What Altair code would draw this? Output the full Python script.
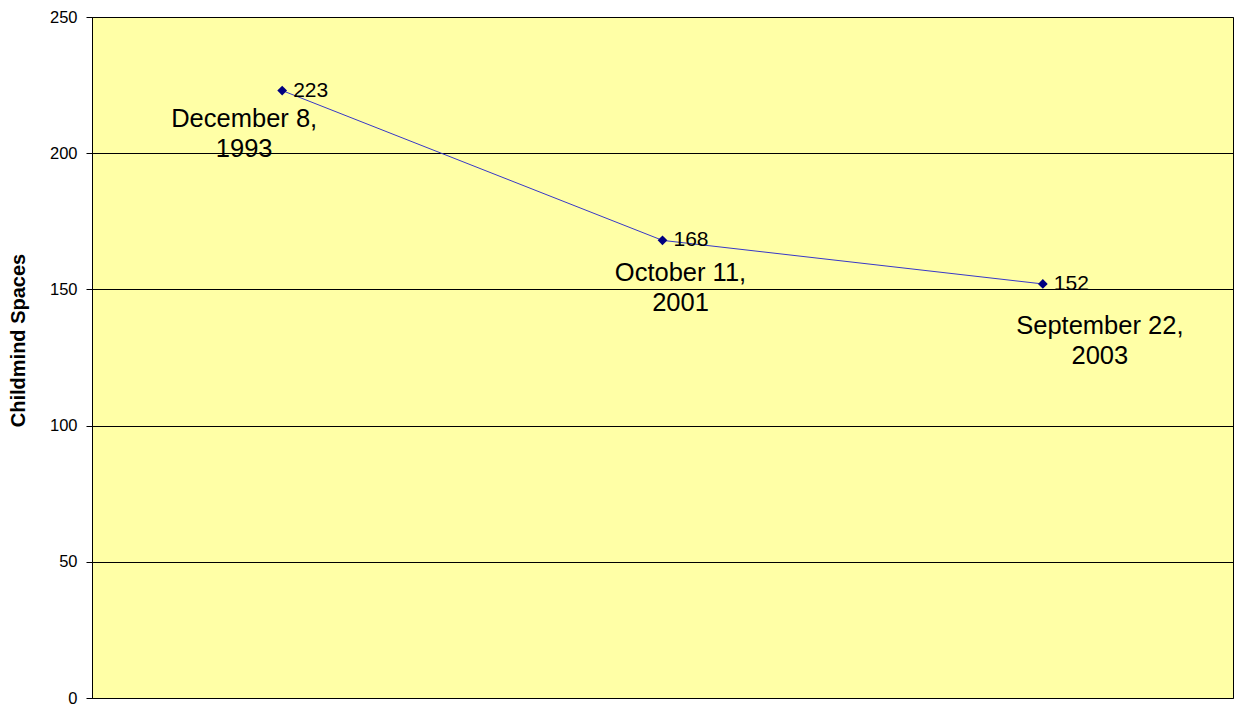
import altair as alt
import pandas as pd

# ---- data ----
dates = ["December 8,\n1993", "October 11,\n2001", "September 22,\n2003"]
spaces = [223, 168, 152]
y_ticks = [0, 50, 100, 150, 200, 250]

df = pd.DataFrame({"date": dates, "spaces": spaces, "order": list(range(len(dates)))})

# ---- style ----
FONT = "Liberation Sans"
date_label_offsets = [(-38, 36), (18, 41), (57, 50)]

x = alt.X("date:N", sort=dates, scale=alt.Scale(type="point", padding=0.5), axis=None)
y = alt.Y(
    "spaces:Q",
    scale=alt.Scale(domain=[0, 250], nice=False, zero=True),
    axis=alt.Axis(
        values=y_ticks,
        title="Childmind Spaces",
        titleFontSize=20,
        titleFontWeight="bold",
        titleFont=FONT,
        titleColor="black",
        titleAngle=270,
        titleX=-68,
        titleY=323,
        titleAlign="center",
        titleBaseline="alphabetic",
        labelFont=FONT,
        labelFontSize=16.5,
        labelColor="black",
        labelPadding=9,
        tickSize=6,
        tickColor="black",
        domainColor="black",
        grid=True,
        gridColor="black",
        gridWidth=1,
        gridOpacity=1,
    ),
)

base = alt.Chart(df)

line = base.mark_line(color="#3838C8", strokeWidth=1).encode(x=x, y=y, order="order:Q")
pts = base.mark_point(shape="diamond", filled=True, size=95, color="#000080", opacity=1).encode(x=x, y=y)
vals = base.mark_text(
    align="left", baseline="middle", dx=11, fontSize=21, font=FONT, color="black"
).encode(x=x, y=y, text="spaces:Q")

date_layers = []
for i, (ox, oy) in enumerate(date_label_offsets):
    date_layers.append(
        base.transform_filter(alt.datum.order == i)
        .mark_text(
            align="center",
            baseline="alphabetic",
            dx=ox,
            dy=oy,
            fontSize=25.5,
            lineHeight=30,
            lineBreak="\n",
            font=FONT,
            color="black",
        )
        .encode(x=x, y=y, text="date:N")
    )

chart = (
    alt.layer(line, pts, vals, *date_layers)
    .properties(
        width=1141,
        height=681,
        autosize=alt.AutoSizeParams(type="none"),
        padding={"left": 84, "top": 9, "right": 1, "bottom": 6},
    )
    .configure_view(fill="#FFFFA6", stroke="black", strokeWidth=1)
)

chart.save("out.html", embed_options={"renderer": "svg", "actions": False})
